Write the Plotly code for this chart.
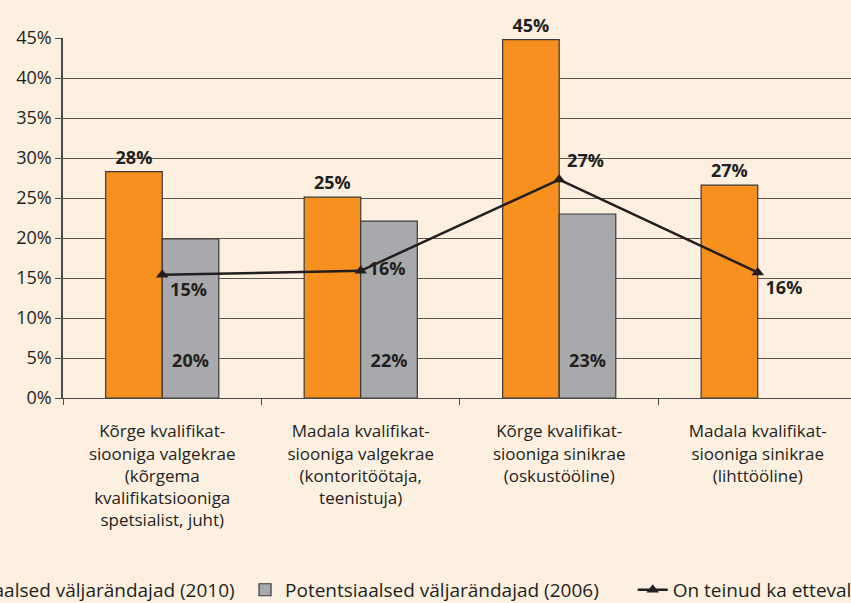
import plotly.graph_objects as go

categories = [
    "Kõrge kvalifikat-<br>siooniga valgekrae<br>(kõrgema<br>kvalifikatsiooniga<br>spetsialist, juht)",
    "Madala kvalifikat-<br>siooniga valgekrae<br>(kontoritöötaja,<br>teenistuja)",
    "Kõrge kvalifikat-<br>siooniga sinikrae<br>(oskustööline)",
    "Madala kvalifikat-<br>siooniga sinikrae<br>(lihttööline)",
]
orange_vals = [28.3, 25.1, 44.8, 26.6]
orange_labels = ["28%", "25%", "45%", "27%"]
gray_vals = [19.9, 22.1, 23.0, None]
gray_labels = ["20%", "22%", "23%", ""]
line_vals = [15.4, 15.9, 27.3, 15.7]
line_labels = ["15%", "16%", "27%", "16%"]
line_text_pos = ["bottom right", "middle right", "top right", "bottom right"]
y_ticks = [0, 5, 10, 15, 20, 25, 30, 35, 40, 45]
y_tick_labels = [f"{v}%" for v in y_ticks]

series_names = [
    "Potentsiaalsed väljarändajad (2010)",
    "Potentsiaalsed väljarändajad (2006)",
    "On teinud ka ettevalmistusi (2010)",
]

FONT = "Open Sans"
DARK = "#231F20"
BG = "#FEF0E1"
LABEL_FONT = dict(family=FONT, size=18, color=DARK, weight="bold")

fig = go.Figure()
fig.add_trace(go.Bar(
    x=categories, y=orange_vals, name=series_names[0], legend="legend",
    marker=dict(color="#F7901E", line=dict(color="#3a3a3a", width=1.2)),
    text=orange_labels, textposition="outside",
    textfont=LABEL_FONT,
    cliponaxis=False,
))
fig.add_trace(go.Bar(
    x=categories, y=gray_vals, name=series_names[1], legend="legend2",
    marker=dict(color="#A7A9AC", line=dict(color="#3a3a3a", width=1.2)),
    text=gray_labels, texttemplate="%{text}<br> ",
    textposition="inside", insidetextanchor="start",
    textfont=LABEL_FONT,
    cliponaxis=False,
))
fig.add_trace(go.Scatter(
    x=categories, y=line_vals, name=series_names[2], legend="legend3",
    mode="lines+markers+text",
    line=dict(color=DARK, width=2.5),
    marker=dict(symbol="triangle-up", size=11, color=DARK),
    text=line_labels, textposition=line_text_pos,
    textfont=LABEL_FONT,
    cliponaxis=False,
))

leg_common = dict(
    orientation="h", xanchor="left", y=-0.533, yanchor="middle",
    font=dict(family=FONT, size=19, color=DARK),
    bgcolor="rgba(0,0,0,0)",
)

fig.update_layout(
    width=851, height=603,
    margin=dict(l=63, r=0, t=38, b=205, autoexpand=False),
    paper_bgcolor=BG, plot_bgcolor=BG,
    barmode="group", bargap=0.43, bargroupgap=0,
    font=dict(family=FONT, size=17, color=DARK),
    showlegend=True,
    legend=dict(x=-0.231, **leg_common),
    legend2=dict(x=0.231, **leg_common),
    legend3=dict(x=0.723, **leg_common),
    xaxis=dict(
        type="category", range=[-0.5, 3.47], automargin=False,
        showline=True, linecolor="#4a4a4a", linewidth=1,
        ticks="outside", ticklen=6, tickcolor="#4a4a4a", tickson="boundaries",
        showgrid=False, tickfont=dict(family=FONT, size=17, color=DARK),
        ticklabelstandoff=18,
    ),
    yaxis=dict(
        range=[0, 45], tickvals=y_ticks, ticktext=y_tick_labels, automargin=False,
        showline=True, linecolor="#4a4a4a", linewidth=1.5,
        ticks="outside", ticklen=6, tickcolor="#4a4a4a",
        showgrid=True, gridcolor="#5a5550", gridwidth=1,
        zeroline=False,
        tickfont=dict(family=FONT, size=18, color=DARK),
    ),
)

fig.write_html(
    "out.html",
    config={"displayModeBar": False},
    post_script="document.body.style.margin='0';document.body.style.background='#FEF0E1';",
)
